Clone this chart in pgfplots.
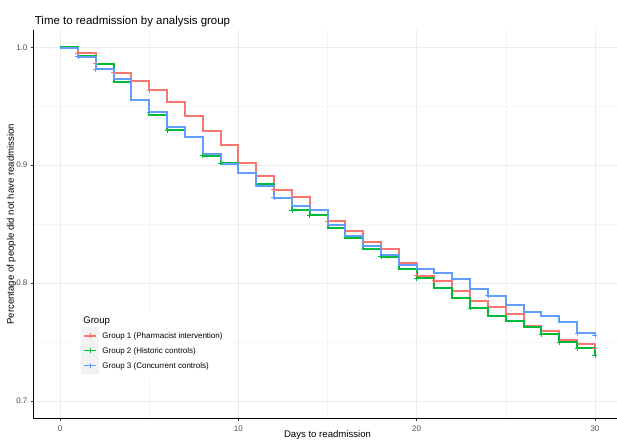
\documentclass[border=0pt]{standalone}
\usepackage{pgfplots}
\pgfplotsset{compat=1.18}
\usepackage{fontspec}
\setmainfont{Liberation Sans}
\definecolor{gA}{HTML}{F8766D}
\definecolor{gB}{HTML}{00BA38}
\definecolor{gC}{HTML}{619CFF}
\definecolor{tickc}{HTML}{4D4D4D}
\definecolor{gridmaj}{HTML}{EBEBEB}
\definecolor{gridmin}{HTML}{F5F5F5}
\definecolor{keybg}{HTML}{F2F2F2}

\pgfplotstableread{
day surv
0 1.0
1 0.9952
2 0.9862
3 0.9786
4 0.9718
5 0.9635
6 0.9538
7 0.9415
8 0.9290
9 0.9168
10 0.9021
11 0.8912
12 0.8792
13 0.8730
14 0.8620
15 0.8525
16 0.8446
17 0.8350
18 0.8286
19 0.8174
20 0.8062
21 0.8020
22 0.7930
23 0.7850
24 0.7800
25 0.7737
26 0.7638
27 0.7593
28 0.7517
29 0.7483
30 0.7450
}\groupA
\pgfplotstableread{
day surv
0 1.0
1 0.9925
2 0.9862
3 0.9705
4 0.9554
5 0.9423
6 0.9296
7 0.9237
8 0.9080
9 0.9020
10 0.8935
11 0.8838
12 0.8724
13 0.8620
14 0.8578
15 0.8466
16 0.8385
17 0.8288
18 0.8225
19 0.8122
20 0.8040
21 0.7962
22 0.7870
23 0.7790
24 0.7718
25 0.7681
26 0.7630
27 0.7568
28 0.7497
29 0.7447
30 0.7390
}\groupB
\pgfplotstableread{
day surv
0 0.9995
1 0.9920
2 0.9816
3 0.9731
4 0.9554
5 0.9450
6 0.9324
7 0.9240
8 0.9098
9 0.9008
10 0.8938
11 0.8828
12 0.8724
13 0.8650
14 0.8620
15 0.8495
16 0.8400
17 0.8312
18 0.8240
19 0.8153
20 0.8116
21 0.8088
22 0.8035
23 0.7948
24 0.7894
25 0.7814
26 0.7757
27 0.7718
28 0.7672
29 0.7576
30 0.7560
}\groupC

\begin{document}
\begin{tikzpicture}
\begin{axis}[
  at={(24.98pt,-314.0pt)}, anchor=south west,
  scale only axis, width=441.3pt, height=291.75pt,
  xmin=-1.5, xmax=31.5, ymin=0.685, ymax=1.015,
  axis lines*=left,
  axis line style={black, line width=0.6pt},
  xtick={0,10,20,30}, ytick={0.7,0.8,0.9,1.0},
  minor xtick={5,15,25}, minor ytick={0.75,0.85,0.95},
  grid=both,
  major grid style={draw=gridmaj, line width=0.5pt},
  minor grid style={draw=gridmin, line width=0.4pt},
  tick align=outside,
  major tick length=2.1pt, minor tick length=0pt,
  tick style={color=black!80, line width=0.5pt},
  /pgf/number format/assume math mode=true,
  yticklabel style={/pgf/number format/fixed, /pgf/number format/fixed zerofill, /pgf/number format/precision=1,
    font=\fontsize{6}{7}\selectfont, text=tickc, inner sep=0pt, xshift=-2.1pt},
  xticklabel style={font=\fontsize{6}{7}\selectfont, text=tickc, inner sep=0pt, yshift=-3.4pt},
  title={Time to readmission by analysis group},
  title style={at={(axis description cs:0,1)}, anchor=base west, yshift=-2.2pt, xshift=1pt, inner sep=0pt,
    font=\fontsize{8.6}{10}\selectfont},
  xlabel={Days to readmission},
  xlabel style={at={(axis description cs:0.5,0)}, anchor=north, yshift=-8.7pt, inner sep=0pt,
    font=\fontsize{7.2}{8.5}\selectfont},
  ylabel={Percentage of people did not have readmission},
  ylabel style={at={(axis description cs:-0.0372,0.5)}, anchor=center, rotate=0, inner sep=0pt,
    font=\fontsize{7.2}{8.5}\selectfont},
  legend image code/.code={
    \path (0pt,-4.85pt) rectangle (12pt,4.85pt);
    \fill[keybg, overlay] (0pt,-5.75pt) rectangle (12pt,5.75pt);
    \draw[#1, line width=1.1pt, overlay] (1.4pt,0pt) -- (10.6pt,0pt);
    \draw[#1, line width=0.5pt, overlay] (6pt,-1.9pt) -- (6pt,1.9pt);
  },
  legend style={at={(axis description cs:0.0675,0.2765)}, anchor=north west,
    fill=white, draw=none, inner xsep=6pt, inner ysep=4pt,
    font=\fontsize{6}{7}\selectfont, row sep=0pt, column sep=2.4pt,
    nodes={inner sep=0pt, text depth=0pt}},
  legend cell align=left,
]
\addlegendimage{empty legend}
\addlegendentry{\hspace{-14.4pt}\fontsize{7.2}{8.5}\selectfont\raisebox{3.7pt}{Group}}
\addplot[const plot, color=gA, line width=1.5pt] table[x=day, y=surv] {\groupA};
\addlegendentry{Group 1 (Pharmacist intervention)}
\addplot[const plot, color=gB, line width=1.5pt] table[x=day, y=surv] {\groupB};
\addlegendentry{Group 2 (Historic controls)}
\addplot[const plot, color=gC, line width=1.5pt] table[x=day, y=surv] {\groupC};
\addlegendentry{Group 3 (Concurrent controls)}
% censor marks
\addplot[forget plot, only marks, mark=+, mark size=1.9pt, color=gA, line width=0.5pt] coordinates {
(1,0.9952) (2,0.9862) (3,0.9786) (5,0.9635) (12,0.8792) (15,0.8525) (17,0.8350) (20,0.8062) (21,0.8020) (30,0.7450)};
\addplot[forget plot, only marks, mark=+, mark size=1.9pt, color=gB, line width=0.5pt] coordinates {
(6,0.9296) (8,0.9080) (9,0.9020) (13,0.8620) (14,0.8578) (18,0.8225) (20,0.8040) (23,0.7790) (27,0.7568) (28,0.7497) (29,0.7447) (30,0.7390)};
\addplot[forget plot, only marks, mark=+, mark size=1.9pt, color=gC, line width=0.5pt] coordinates {
(1,0.9920) (2,0.9816) (5,0.9450) (12,0.8724) (24,0.7894) (29,0.7576) (30,0.7560)};
\end{axis}
\pgfresetboundingbox
\useasboundingbox (0pt,0pt) rectangle (462.75pt,-330pt);
\end{tikzpicture}
\end{document}
